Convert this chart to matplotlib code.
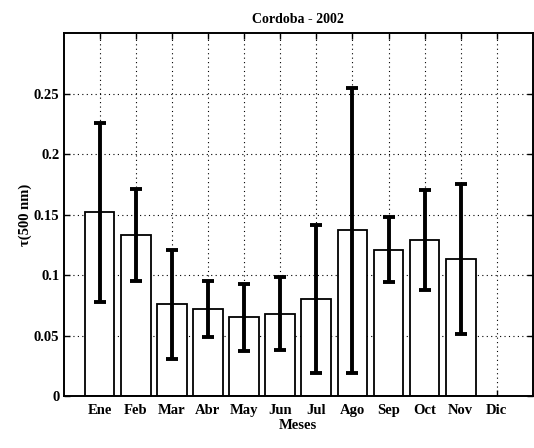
import matplotlib
matplotlib.use('Agg')
import matplotlib.pyplot as plt
import numpy as np

# monthly mean aerosol optical depth at 500 nm and its standard deviation
months = ['Ene', 'Feb', 'Mar', 'Abr', 'May', 'Jun', 'Jul', 'Ago', 'Sep', 'Oct', 'Nov', 'Dic']
tau_mean = [0.152, 0.133, 0.076, 0.072, 0.065, 0.068, 0.080, 0.137, 0.121, 0.129, 0.113, 0.0]
tau_std = [0.074, 0.038, 0.045, 0.023, 0.028, 0.030, 0.061, 0.118, 0.027, 0.041, 0.062, 0.0]
y_ticks = [0, 0.05, 0.1, 0.15, 0.2, 0.25]

plt.rcParams['font.family'] = ['Liberation Serif', 'DejaVu Serif']
plt.rcParams['font.weight'] = 'bold'
plt.rcParams['axes.titleweight'] = 'bold'
plt.rcParams['axes.labelweight'] = 'bold'

fig = plt.figure(figsize=(5.34, 4.48), dpi=100)
ax = fig.add_axes([0.119, 0.116, 0.879, 0.810])

x = np.arange(1, len(months) + 1)
shown = [i for i, v in enumerate(tau_mean) if v > 0]
ax.bar(x[shown], [tau_mean[i] for i in shown], width=0.82, color='white',
       edgecolor='black', linewidth=1.3, zorder=2)
ax.errorbar(x[shown], [tau_mean[i] for i in shown], yerr=[tau_std[i] for i in shown],
            fmt='none', ecolor='black', elinewidth=2.8, capsize=4.5, capthick=2.8, zorder=3)

ax.set_xlim(0, 13)
ax.set_ylim(0, 0.3)
ax.set_xticks(x)
ax.set_xticklabels(months)
ax.set_yticks(y_ticks)
ax.set_yticklabels(['0', '0.05', '0.1', '0.15', '0.2', '0.25'])
ax.tick_params(direction='in', top=True, right=True, length=4, width=1,
               labelsize=10.5)
ax.tick_params(axis='x', pad=6)
ax.tick_params(axis='y', pad=3)
ax.grid(True, linestyle=(0, (1, 3)), color='black', linewidth=0.8, zorder=1)
ax.set_axisbelow(True)
for s in ax.spines.values():
    s.set_linewidth(1.4)

ax.set_title('Cordoba - 2002', fontsize=10, pad=7)
ax.set_xlabel('Meses', fontsize=10.5, labelpad=1)
ax.set_ylabel('τ(500 nm)', fontsize=10.5, labelpad=1)

fig.savefig('out.png', dpi=100)
